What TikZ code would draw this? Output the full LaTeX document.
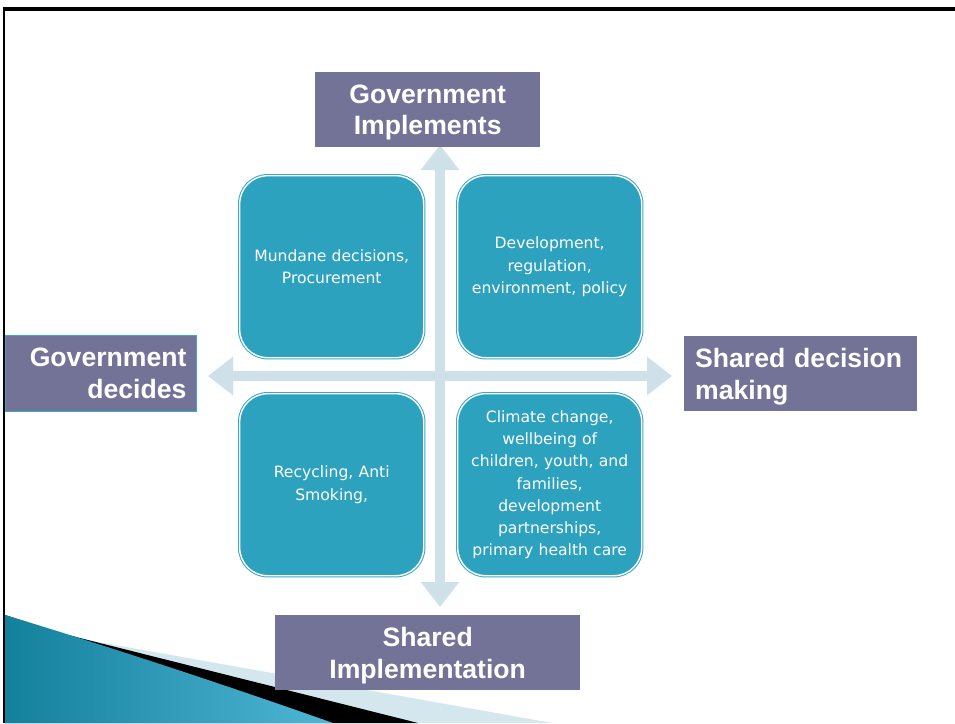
\documentclass[tikz,border=0pt]{standalone}
\usepackage{fontspec}
\usetikzlibrary{arrows.meta}
\newfontfamily\labfont{Liberation Sans}
\newfontfamily\boxfont{DejaVu Sans}
\definecolor{labc}{HTML}{737397}
\definecolor{tealc}{HTML}{2DA2BF}
\definecolor{tealedge}{HTML}{3AA8C6}
\definecolor{arrowc}{HTML}{CFE1E8}
\definecolor{lblue}{HTML}{D4E7EF}
\definecolor{dteal}{HTML}{13809C}
\definecolor{lteal}{HTML}{4FB6D6}
\tikzset{
  lab/.style={fill=labc, text=white, font=\labfont\bfseries\fontsize{26.6}{31.5}\selectfont,
    inner sep=0pt, anchor=north west},
  qbox/.style={rectangle, rounded corners=28pt, fill=tealc, draw=white, line width=1.4pt,
    preaction={draw=tealedge, line width=3.4pt},
    text=white, align=center, text width=176pt, inner sep=0pt,
    font=\boxfont\fontsize{15.6}{22.2}\selectfont,
    minimum width=184pt, minimum height=182pt, anchor=north west},
  crossarrow/.style={line width=10pt, color=arrowc,
    {Triangle[width=37pt,length=25pt]}-{Triangle[width=37pt,length=25pt]}}
}
\begin{document}
\begin{tikzpicture}[x=1pt,y=-1pt]
\useasboundingbox (0,0) rectangle (955,723);
\fill[white] (0,0) rectangle (955,723);
% bottom-left decoration
\fill[lblue] (5,615) -- (87,640) -- (552,723) -- (5,723) -- cycle;
\fill[black] (5,615) -- (60,633) -- (418,723) -- (5,723) -- cycle;
\shade[left color=dteal, right color=lteal] (5,615) .. controls (120,650) and (240,690) .. (333,723) -- (5,723) -- cycle;
% frame
\draw[line width=2.4pt] (3.8,723) -- (3.8,9);
\draw[line width=3.4pt] (2.6,9) -- (955,9);
% cross arrows
\coordinate (vt) at (440,145);
\coordinate (vb) at (440,607);
\coordinate (hl) at (208,376);
\coordinate (hr) at (672,376);
\draw[crossarrow] (vt) -- (vb);
\draw[crossarrow] (hl) -- (hr);
% quadrant boxes
\node[qbox] (q1) at (239,175) {Mundane decisions,\\Procurement};
\node[qbox] (q2) at (457,175) {Development,\\regulation,\\environment, policy};
\node[qbox] (q3) at (239,393) {Recycling, Anti\\Smoking,};
\node[qbox] (q4) at (457,393) {Climate change,\\wellbeing of\\children, youth, and\\families,\\development\\partnerships,\\primary health care};
% labels
\node[lab, text depth=0pt, minimum width=225pt, minimum height=75pt, align=center] (gi) at (315,72) {Government\\Implements};
\node[lab, text depth=31.5pt, minimum width=191pt, minimum height=76pt, align=right, text width=171pt,
      inner xsep=10pt, draw=tealedge, line width=0.9pt] (gd) at (5,335) {Government\\decides};
\node[lab, text depth=31.5pt, minimum width=233pt, minimum height=75pt, align=left, text width=211pt,
      inner xsep=11pt] (sd) at (684,336) {Shared decision\\making};
\node[lab, text depth=0pt, minimum width=305pt, minimum height=75pt, align=center] (si) at (275,615) {Shared\\Implementation};
\end{tikzpicture}
\end{document}
